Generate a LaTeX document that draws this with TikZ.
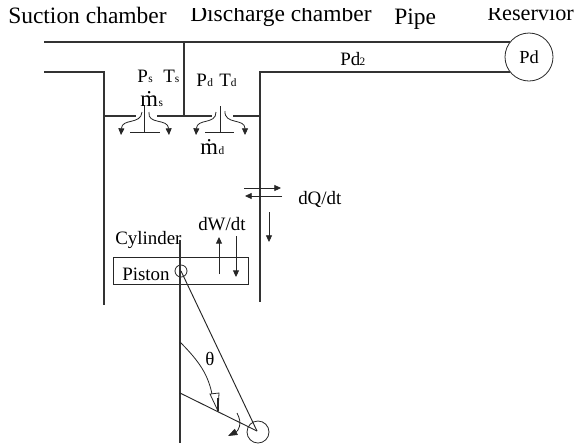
\documentclass[tikz,border=0pt]{standalone}
\usepackage{fontspec}
\setmainfont{Liberation Serif}
\usetikzlibrary{arrows.meta}
\tikzset{
  wall/.style={line width=0.95pt,draw=black!80},
  thin line/.style={line width=0.7pt,draw=black!85},
  flow/.style={line width=0.6pt,draw=black!85,-{Triangle[length=5pt,width=4.5pt]}},
  big/.style={inner sep=0pt,font=\fontsize{17.6}{19}\selectfont,anchor=base west},
  mid/.style={inner sep=0pt,font=\fontsize{14.2}{15}\selectfont,anchor=base west},
}
\newcommand{\subtxt}[1]{{\fontsize{8.5}{9}\selectfont #1}}
\begin{document}
\begin{tikzpicture}[x=0.75pt,y=-0.75pt]
\useasboundingbox (0,0) rectangle (577,444);
\clip (0,0) rectangle (577,444);
\fill[white] (0,0) rectangle (577,444);
% labels
\node[big] (lsuc) at (8,23) {Suction chamber};
\node[big] (ldis) at (190,21) {Discharge chamber};
\node[big] (lpipe) at (394,24) {Pipe};
\node[big,font=\fontsize{16.7}{19}\selectfont] (lres) at (487,20) {Reservior};
\fill[white] (180,0) rectangle (577,8);
% reservoir
\node[draw=black!85,line width=0.6pt,circle,minimum size=48pt*0.75,inner sep=0pt,font=\fontsize{13.8}{15}\selectfont] (res) at (529,57) {Pd};
\coordinate (topL) at (44,42);
\coordinate (topR) at (510,42);
\coordinate (lowR) at (510,72);
\coordinate (divT) at (184,42);
\coordinate (divB) at (184,116);
\draw[wall] (topL) -- (topR);
\draw[wall] (divT) -- (divB);
\draw[wall] (44,72) -- (104,72) -- (104,305);
\draw[wall] (lowR) -- (260,72) -- (260,302);
\draw[wall] (104,116) -- (136,116);
\draw[wall] (157,116) -- (212,116);
\draw[wall] (233,116) -- (260,116);
\node[mid] (lpd2) at (340,65) {Pd\kern-0.5pt\subtxt{2}};
% valve s
\coordinate (vsT) at (144,105);
\coordinate (vsB) at (144,132);
\draw[thin line] (vsT) -- (vsB);
\draw[thin line] (130,132) -- (160,132);
\draw[flow] (142,112) .. controls (141,125) and (122,118) .. (121,135);
\draw[flow] (149,112) .. controls (147,125) and (168,118) .. (169,135);
% valve d
\coordinate (vdT) at (220,106);
\coordinate (vdB) at (220,132);
\draw[thin line] (vdT) -- (vdB);
\draw[thin line] (205,132) -- (234,132);
\draw[flow] (216,112) .. controls (216,125) and (197,118) .. (196,135);
\draw[flow] (225,111) .. controls (224,125) and (245,118) .. (245,135);
% state labels
\node[mid] (lps) at (137,82) {P\kern0.5pt\subtxt{s}};
\node[mid] (lts) at (163,82) {T\subtxt{s}};
\node[mid] (lpdv) at (196,86) {P\kern0.5pt\subtxt{d}};
\node[mid] (ltd) at (219,86) {T\subtxt{d}};
\node[mid] (lms) at (140,106) {\fontsize{17}{18}\selectfont ṁ\kern0.5pt\subtxt{s}};
\node[mid] (lmd) at (200,154) {\fontsize{17}{18}\selectfont ṁ\kern0.5pt\subtxt{d}};
% heat
\draw[flow] (244,188) -- (281,188);
\draw[flow] (282,196) -- (245,196);
\draw[flow] (269,212) -- (269,242);
\node[mid] (lq) at (298,204) {dQ/dt};
% work
\node[mid] (lw) at (198,230) {dW/dt};
\draw[flow,line width=0.7pt] (219,274) -- (219,237);
\draw[flow,line width=0.7pt] (236,236) -- (236,277);
% piston
\node[draw=black!85,line width=0.7pt,minimum width=135pt*0.75,minimum height=27pt*0.75,inner sep=0pt] (piston) at (180.5,270.5) {};
\node[mid] (lpis) at (122,280) {Piston};
\node[mid] (lcyl) at (115,244) {Cylinder};
\node[draw=black!85,line width=0.6pt,circle,minimum size=12pt*0.75,inner sep=0pt] (pin) at (181,271) {};
\coordinate (rodT) at (180,240);
\coordinate (rodB) at (180,443);
\draw[wall] (rodT) -- (rodB);
% crank
\node[draw=black!85,line width=0.6pt,circle,minimum size=22pt*0.75,inner sep=0pt] (crank) at (258,432) {};
\coordinate (crankC) at (257,431);
\coordinate (crankL) at (180,393);
\draw[thin line] (pin.center) -- (crankC);
\draw[thin line] (crankL) -- (crankC);
\draw[line width=0.6pt,draw=black!85] (180,342) .. controls (200,362) and (208,375) .. (212,394);
\draw[line width=0.6pt,draw=black!85] (210,394) -- (219,393) -- (218,411) -- cycle;
\draw[line width=1.3pt,draw=black!85] (218,398) -- (218,411);
\node[mid] (lth) at (205,365) {θ};
\draw[flow,line width=0.6pt,-{Triangle[length=7pt,width=5pt]}] (237,413) .. controls (243,424) and (238,431) .. (228,436);
\end{tikzpicture}
\end{document}
